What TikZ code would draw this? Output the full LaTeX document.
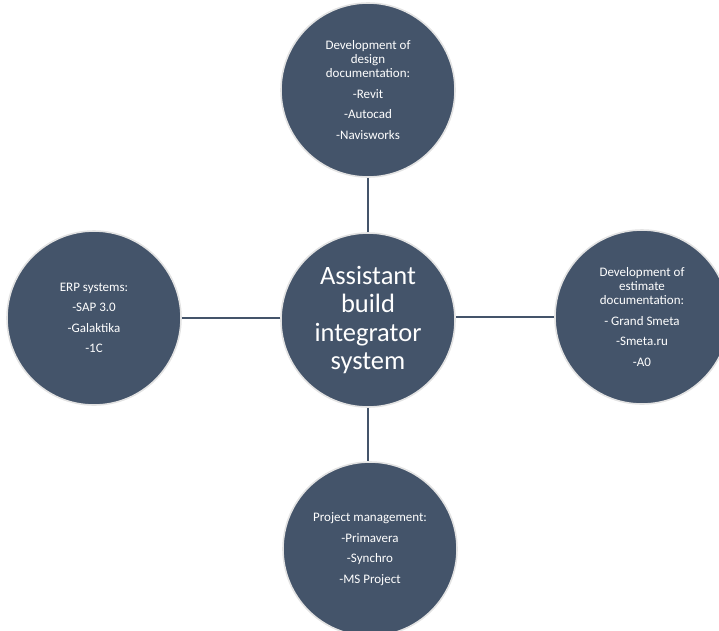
\documentclass[tikz,border=0pt]{standalone}
\usepackage{fontspec}
\setmainfont{Carlito}
\definecolor{slate}{HTML}{44546A}
\definecolor{rimgrey}{HTML}{E3E3E3}
\begin{document}
\begin{tikzpicture}[x=1pt,y=-1pt,
  bubble/.style={circle, fill=slate, draw=rimgrey, line width=1.6pt, minimum size=174pt, inner sep=0pt, text=white, align=center},
  small/.style={font=\fontsize{13}{14}\selectfont},
  big/.style={font=\fontsize{26.5}{28.5}\selectfont},
  link/.style={draw=slate, line width=2.8pt}]
\useasboundingbox (0,0) rectangle (719,630);
\clip (0,0) rectangle (719,630);
\node[bubble, small] (design) at (368,90) {Development of\\design\\documentation:\\[6.5pt]-Revit\\[6.5pt]-Autocad\\[6.5pt]-Navisworks};
\node[bubble, big] (hub) at (368,320) {Assistant\\build\\integrator\\system};
\node[bubble, small] (erp) at (94,318) {ERP systems:\\[6.5pt]-SAP 3.0\\[6.5pt]-Galaktika\\[6.5pt]-1C};
\node[bubble, small] (estimate) at (642,317) {Development of\\estimate\\documentation:\\[6.5pt]- Grand Smeta\\[6.5pt]-Smeta.ru\\[6.5pt]-A0};
\node[bubble, small] (pm) at (370,549) {Project management:\\[6.5pt]-Primavera\\[6.5pt]-Synchro\\[6.5pt]-MS Project};
\draw[link] (design.south) -- (hub.north);
\draw[link] (hub.south) -- (hub.south |- pm.north);
\draw[link] (erp.east) -- (erp.east -| hub.west);
\draw[link] (hub.east |- estimate.west) -- (estimate.west);
\end{tikzpicture}
\end{document}
